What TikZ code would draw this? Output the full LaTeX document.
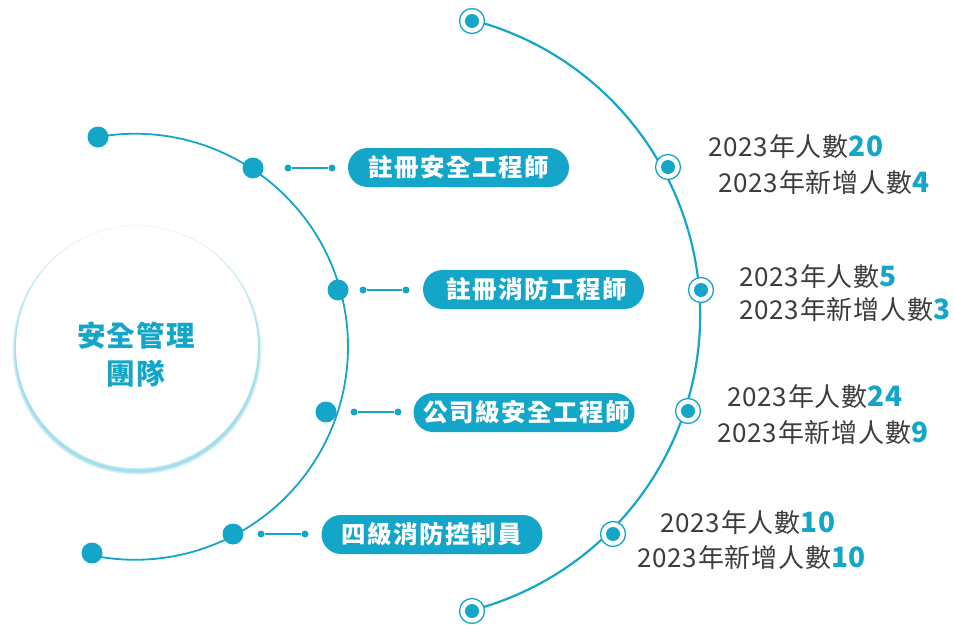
\documentclass[tikz,border=0pt]{standalone}
\usepackage{fontspec}
\setmainfont{Noto Sans CJK TC}
\newfontfamily\pillfont[LetterSpace=6]{Noto Sans CJK TC}
\newfontfamily\statfont[LetterSpace=3]{Noto Sans CJK TC}
\newfontfamily\numfont[LetterSpace=2]{Noto Sans CJK TC}
\newfontfamily\teamfont[LetterSpace=4]{Noto Sans CJK TC}
\definecolor{accent}{RGB}{20,166,200}
\definecolor{glow}{RGB}{120,205,225}
\definecolor{txtgray}{RGB}{60,60,60}
\tikzset{
  arcline/.style={draw=accent, line width=1.8pt},
  bigdot/.style={circle, fill=accent, inner sep=0pt, minimum size=21pt},
  smalldot/.style={circle, fill=accent, inner sep=0pt, minimum size=7pt},
  link/.style={draw=accent, line width=1.4pt},
  pill/.style={rectangle, rounded corners=19.5pt, fill=accent, text=white, inner sep=0pt,
    minimum width=221pt, minimum height=39pt, font=\pillfont\fontsize{24.5}{30}\selectfont\bfseries},
  ringmark/.style={circle, draw=accent, line width=1.3pt, fill=white, inner sep=0pt, minimum size=25pt,
    path picture={\fill[accent] (path picture bounding box.center) circle (7pt);}},
  stat/.style={anchor=west, text=txtgray, inner sep=0pt, font=\statfont\fontsize{26}{30}\selectfont},
  centertext/.style={text=accent, align=center, font=\teamfont\fontsize{28.5}{38}\selectfont\bfseries}
}
\newcommand{\num}[1]{\textcolor{accent}{\numfont\fontsize{28}{30}\selectfont\bfseries #1}}
\begin{document}
\begin{tikzpicture}[x=1pt, y=-1pt]
\useasboundingbox (0,0) rectangle (953,627);
% centre circle with glow
\foreach \k in {1,...,8}{
  \draw[glow, opacity=0.14, line width=\k*0.9pt] (137,350) circle (121);
}
\fill[white] (137,347) circle (121);
\node[centertext] (team) at (136,354) {安全管理\\團隊};
% left arc
\coordinate (lc) at (135,346);
\draw[arcline] (98,137) arc[start angle=-100, end angle=102, radius=213];
\node[bigdot] (lstart) at (98,137) {};
\node[bigdot] (lend) at (92,553) {};
\node[bigdot] (l1) at (253,168) {};
\node[bigdot] (l2) at (338,290) {};
\node[bigdot] (l3) at (326,412) {};
\node[bigdot] (l4) at (233,534) {};
% connectors
\node[smalldot] (a1) at (288,168) {};
\node[smalldot] (b1) at (332,168) {};
\node[smalldot] (a2) at (363,290) {};
\node[smalldot] (b2) at (406,290) {};
\node[smalldot] (a3) at (354,412) {};
\node[smalldot] (b3) at (398,412) {};
\node[smalldot] (a4) at (261,534) {};
\node[smalldot] (b4) at (305,534) {};
\draw[link] (a1) -- (b1);
\draw[link] (a2) -- (b2);
\draw[link] (a3) -- (b3);
\draw[link] (a4) -- (b4);
% pills
\node[pill] (p1) at (458.5,167.5) {註冊安全工程師};
\node[pill] (p2) at (533.5,289.5) {\hspace{6pt}註冊消防工程師};
\node[pill] (p3) at (524,412.5) {\hspace{6pt}公司級安全工程師};
\node[pill] (p4) at (432,534.5) {四級消防控制員};
% right arc
\draw[accent, line width=2.2pt] (472,20) arc[start angle=-75.4, end angle=75.4, radius=305];
\node[ringmark] (r0) at (472,21) {};
\node[ringmark] (r1) at (668,167) {};
\node[ringmark] (r2) at (701,290) {};
\node[ringmark] (r3) at (688,411) {};
\node[ringmark] (r4) at (613,534) {};
\node[ringmark] (r5) at (472,611) {};
% stats
\node[stat] (s1a) at (708,147) {2023年人數\num{20}};
\node[stat] (s1b) at (718,183) {2023年新增人數\num{4}};
\node[stat] (s2a) at (739,277) {2023年人數\num{5}};
\node[stat] (s2b) at (739,310) {2023年新增人數\num{3}};
\node[stat] (s3a) at (727,397) {2023年人數\num{24}};
\node[stat] (s3b) at (717,433) {2023年新增人數\num{9}};
\node[stat] (s4a) at (660,523) {2023年人數\num{10}};
\node[stat] (s4b) at (637,558) {2023年新增人數\num{10}};
\end{tikzpicture}
\end{document}
